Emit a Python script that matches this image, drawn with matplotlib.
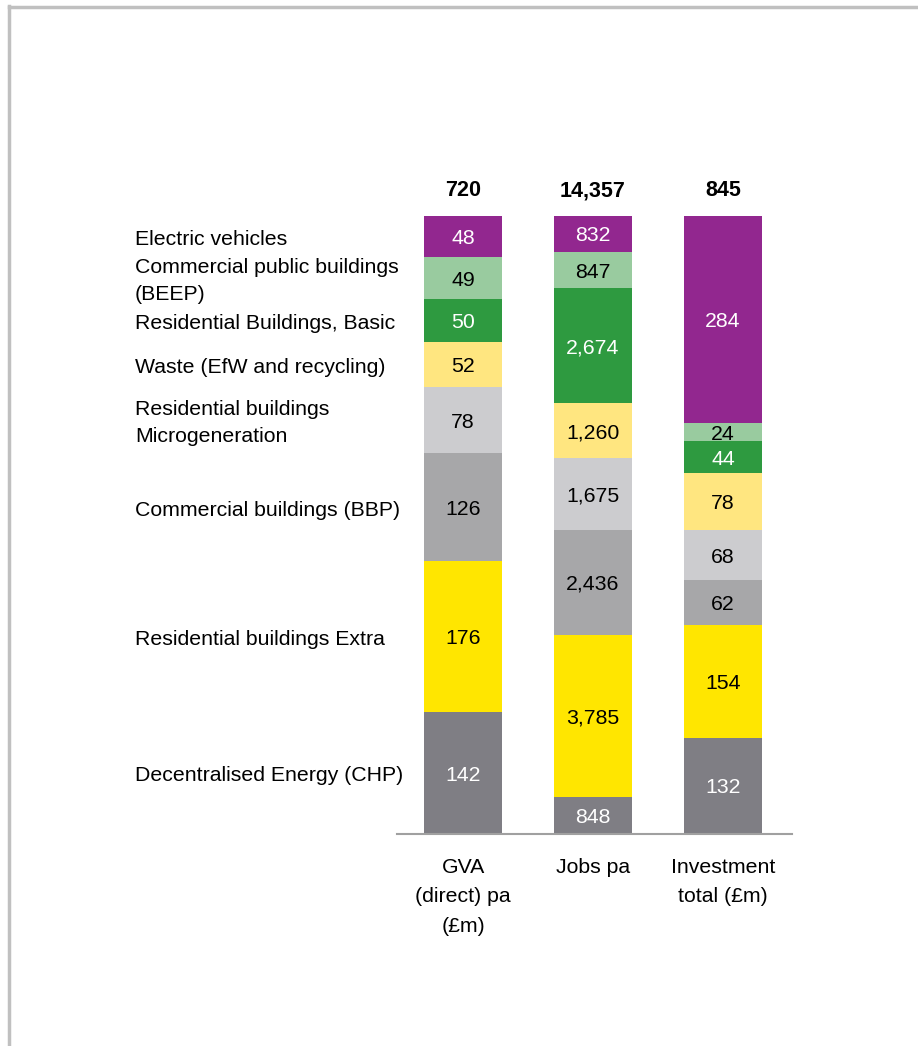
import matplotlib
matplotlib.use("Agg")
import matplotlib.pyplot as plt
from matplotlib.lines import Line2D
import matplotlib.transforms as mtransforms

plt.rcParams['font.family'] = ['Liberation Sans', 'DejaVu Sans']

# ---- data (bottom to top) ----
categories = [
    "Decentralised Energy (CHP)",
    "Residential buildings Extra",
    "Commercial buildings (BBP)",
    "Residential buildings\nMicrogeneration",
    "Waste (EfW and recycling)",
    "Residential Buildings, Basic",
    "Commercial public buildings\n(BEEP)",
    "Electric vehicles",
]
bar_labels = ["GVA\n(direct) pa\n(£m)", "Jobs pa", "Investment\ntotal (£m)"]
totals = ["720", "14,357", "845"]
gva = [142, 176, 126, 78, 52, 50, 49, 48]
jobs = [848, 3785, 2436, 1675, 1260, 2674, 847, 832]
investment = [132, 154, 62, 68, 78, 44, 24, 284]

colors = ["#7f7e84", "#ffe600", "#a7a7a9", "#cccccf", "#ffe680", "#2e9a40", "#99cb9f", "#92278f"]
text_colors = ["white", "black", "black", "black", "black", "white", "black", "white"]

series = [gva, jobs, investment]
FS = 15.3

fig = plt.figure(figsize=(9.18, 10.46), dpi=100)
W, H = 918, 1046
ax = fig.add_axes([397 / W, (H - 834) / H, (792 - 397) / W, (834 - 216) / H])

bar_w = 0.6
for i, vals in enumerate(series):
    total = sum(vals)
    bottom = 0.0
    for j, v in enumerate(vals):
        frac = v / total
        ax.bar(i, frac, bottom=bottom, width=bar_w, color=colors[j], edgecolor='none')
        ax.annotate(f"{v:,}", xy=(i, bottom + frac / 2), xytext=(0, -1.5),
                    textcoords='offset points', ha='center', va='center',
                    fontsize=FS, color=text_colors[j])
        bottom += frac
    ax.annotate(totals[i], xy=(i, 1.0), xytext=(0, 18), textcoords='offset points',
                ha='center', va='center', fontsize=15.5, fontweight='bold', color='black')
    ax.annotate(bar_labels[i], xy=(i, 0.0), xytext=(0, -17), textcoords='offset points',
                ha='center', va='top', fontsize=FS, color='black', linespacing=1.72)

# left category labels aligned with GVA segments
trans = mtransforms.blended_transform_factory(fig.transFigure, ax.transData)
offset = mtransforms.ScaledTranslation(0, -2 / 72, fig.dpi_scale_trans)
tot = sum(gva)
bottom = 0.0
for j, v in enumerate(gva):
    frac = v / tot
    ax.text(135 / W, bottom + frac / 2, categories[j], transform=trans + offset,
            ha='left', va='center', fontsize=FS, color='black', linespacing=1.5)
    bottom += frac

ax.set_xlim(-0.508, 2.531)
ax.set_ylim(0, 1.0)
for s in ['top', 'right', 'left']:
    ax.spines[s].set_visible(False)
ax.spines['bottom'].set_color('#a0a0a0')
ax.spines['bottom'].set_linewidth(1.5)
ax.set_xticks([])
ax.set_yticks([])
ax.patch.set_visible(False)

# frame border
fig.add_artist(Line2D([8.5 / W, 1.0], [1 - 7 / H, 1 - 7 / H], transform=fig.transFigure,
                      color='#c0c0c0', linewidth=2.5))
fig.add_artist(Line2D([9 / W, 9 / W], [0, 1 - 6 / H], transform=fig.transFigure,
                      color='#c0c0c0', linewidth=2.5))

fig.savefig("out.png", dpi=100)
